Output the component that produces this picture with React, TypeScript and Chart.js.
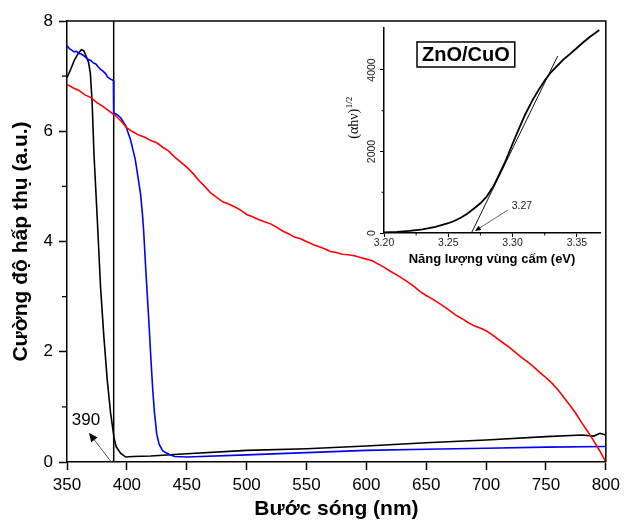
import React, { useEffect, useRef } from "react";
import { Chart, registerables } from "chart.js";

Chart.register(...registerables);

// ---------------- Main chart data ----------------
const X_TICKS = [350, 400, 450, 500, 550, 600, 650, 700, 750, 800];
const Y_TICKS = [0, 2, 4, 6, 8];
const Y_MINOR = [1, 3, 5, 7];

const RED_NM = [350, 355, 360, 365, 370, 375, 380, 385, 390, 395, 400, 405, 410, 415, 420, 425, 430, 435, 440, 445, 450, 455, 460, 465, 470, 475, 480, 485, 490, 495, 500, 505, 510, 515, 520, 525, 530, 535, 540, 545, 550, 555, 560, 565, 570, 575, 580, 585, 590, 595, 600, 605, 610, 615, 620, 625, 630, 635, 640, 645, 650, 655, 660, 665, 670, 675, 680, 685, 690, 695, 700, 705, 710, 715, 720, 725, 730, 735, 740, 745, 750, 755, 760, 765, 770, 775, 780, 785, 790, 795, 800];
const RED_VAL = [6.85, 6.79, 6.74, 6.66, 6.61, 6.52, 6.45, 6.37, 6.29, 6.19, 6.06, 5.99, 5.93, 5.89, 5.83, 5.79, 5.71, 5.64, 5.53, 5.44, 5.35, 5.24, 5.11, 5.0, 4.88, 4.8, 4.72, 4.68, 4.63, 4.57, 4.49, 4.45, 4.4, 4.36, 4.32, 4.26, 4.19, 4.14, 4.08, 4.05, 4.0, 3.95, 3.91, 3.87, 3.82, 3.8, 3.77, 3.76, 3.74, 3.71, 3.68, 3.65, 3.59, 3.53, 3.46, 3.4, 3.33, 3.26, 3.18, 3.09, 3.02, 2.96, 2.89, 2.82, 2.74, 2.66, 2.6, 2.53, 2.47, 2.43, 2.38, 2.31, 2.23, 2.15, 2.07, 1.98, 1.89, 1.81, 1.72, 1.62, 1.53, 1.43, 1.31, 1.17, 1.03, 0.88, 0.71, 0.55, 0.38, 0.2, 0.0];

const BLUE_NM = [350, 352, 354, 356, 358, 360, 362, 364, 366, 368, 370, 372, 374, 376, 378, 380, 382, 384, 386, 388.8, 389, 392, 395, 399, 403, 407, 410, 411.5, 413, 414, 415.5, 417, 418.5, 420, 421.5, 423, 425, 427, 430, 435, 440, 450, 500, 550, 600, 650, 700, 750, 800];
const BLUE_VAL = [7.55, 7.5, 7.47, 7.44, 7.45, 7.41, 7.4, 7.37, 7.33, 7.3, 7.28, 7.24, 7.22, 7.17, 7.12, 7.09, 7.05, 6.98, 6.95, 6.92, 6.33, 6.3, 6.24, 6.1, 5.85, 5.49, 5.07, 4.85, 4.5, 4.2, 3.6, 3.05, 2.5, 1.9, 1.35, 0.9, 0.5, 0.32, 0.2, 0.14, 0.1, 0.09, 0.13, 0.17, 0.21, 0.23, 0.25, 0.27, 0.28];

const BLACK_NM = [350, 353, 356, 359, 362, 364, 366, 368, 369.5, 371, 372.5, 375.3, 378, 380.8, 383.6, 386.4, 389.2, 391, 394.7, 399, 405, 420, 450, 500, 550, 600, 650, 700, 750, 780, 790, 795, 800];
const BLACK_VAL = [6.97, 7.12, 7.28, 7.4, 7.48, 7.46, 7.36, 7.25, 7.05, 6.52, 5.6, 4.4, 3.18, 2.27, 1.49, 0.89, 0.45, 0.28, 0.16, 0.09, 0.1, 0.11, 0.15, 0.21, 0.24, 0.29, 0.35, 0.4, 0.46, 0.49, 0.47, 0.52, 0.49];

const EDGE_NM = 389; // vertical marker line
const EDGE_LINE_NM = [EDGE_NM, EDGE_NM];
const EDGE_LINE_VAL = [0, 8];

const EDGE_LABEL = "390";
const EDGE_LABEL_POS = [365.8, 0.76];
const EDGE_ARROW_TAIL = [387, 0.0];
const EDGE_ARROW_HEAD = [368.3, 0.53];

// ---------------- Inset data ----------------
const INSET_X_TICKS = [3.2, 3.25, 3.3, 3.35];
const INSET_X_MINOR = [3.225, 3.275, 3.325];
const INSET_Y_TICKS = [0, 2000, 4000];
const INSET_Y_MINOR = [1000, 3000];

const INSET_EV = [3.2, 3.21, 3.22, 3.23, 3.24, 3.25, 3.255, 3.26, 3.265, 3.27, 3.275, 3.28, 3.285, 3.29, 3.295, 3.3, 3.305, 3.31, 3.315, 3.32, 3.325, 3.33, 3.335, 3.34, 3.345, 3.35, 3.355, 3.36, 3.3675];
const INSET_VAL = [15, 30, 52, 88, 150, 240, 300, 380, 480, 600, 730, 900, 1140, 1460, 1800, 2190, 2560, 2920, 3230, 3500, 3740, 3950, 4110, 4270, 4400, 4540, 4680, 4810, 4980];

const TANGENT_EV = [3.268, 3.3351];
const TANGENT_VAL = [0, 4343];

const INSET_LABEL = "ZnO/CuO";
const INSET_LABEL_POS = [3.2637, 4380];
const GAP_LABEL = "3.27";
const GAP_LABEL_POS = [3.3073, 663];
const GAP_ARROW_TAIL = [3.2964, 564];
const GAP_ARROW_HEAD = [3.2707, 49];

const SANS = "'Liberation Sans', Arial, Helvetica, sans-serif";
const SERIF = "'Liberation Serif', 'Times New Roman', serif";

const pts = (xs: number[], ys: number[]) => xs.map((x, i) => ({ x, y: ys[i] }));

function drawArrow(ctx: CanvasRenderingContext2D, x1: number, y1: number, x2: number, y2: number, lineColor: string, headLen: number, headW: number) {
  const ang = Math.atan2(y2 - y1, x2 - x1);
  const bx = x2 - Math.cos(ang) * headLen;
  const by = y2 - Math.sin(ang) * headLen;
  ctx.strokeStyle = lineColor;
  ctx.lineWidth = 1;
  ctx.beginPath();
  ctx.moveTo(x1, y1);
  ctx.lineTo(bx, by);
  ctx.stroke();
  ctx.fillStyle = "#000";
  ctx.beginPath();
  ctx.moveTo(x2, y2);
  ctx.lineTo(bx + Math.sin(ang) * headW, by - Math.cos(ang) * headW);
  ctx.lineTo(bx - Math.sin(ang) * headW, by + Math.cos(ang) * headW);
  ctx.closePath();
  ctx.fill();
}

const mainDecor = {
  id: "mainDecor",
  afterDraw(chart: any) {
    const { ctx, chartArea, scales } = chart;
    const { left, right, top, bottom } = chartArea;
    const x = scales.x, y = scales.y;
    ctx.save();
    ctx.strokeStyle = "#000";
    ctx.lineWidth = 1.5;
    ctx.beginPath();
    ctx.moveTo(left, top);
    ctx.lineTo(right, top);
    ctx.lineTo(right, bottom);
    ctx.stroke();
    ctx.lineWidth = 1.2;
    ctx.beginPath();
    for (const v of Y_MINOR) {
      const py = y.getPixelForValue(v);
      ctx.moveTo(left, py);
      ctx.lineTo(left - 5, py);
    }
    ctx.stroke();
    drawArrow(
      ctx,
      x.getPixelForValue(EDGE_ARROW_TAIL[0]), y.getPixelForValue(EDGE_ARROW_TAIL[1]),
      x.getPixelForValue(EDGE_ARROW_HEAD[0]), y.getPixelForValue(EDGE_ARROW_HEAD[1]),
      "#555", 9, 4
    );
    ctx.fillStyle = "#000";
    ctx.font = `17px ${SANS}`;
    ctx.textAlign = "center";
    ctx.textBaseline = "middle";
    ctx.fillText(EDGE_LABEL, x.getPixelForValue(EDGE_LABEL_POS[0]), y.getPixelForValue(EDGE_LABEL_POS[1]));
    ctx.restore();
  },
};

const insetDecor = {
  id: "insetDecor",
  afterDraw(chart: any) {
    const { ctx, chartArea, scales } = chart;
    const { left, bottom, top } = chartArea;
    const x = scales.x, y = scales.y;
    ctx.save();
    ctx.strokeStyle = "#000";
    ctx.lineWidth = 1;
    ctx.beginPath();
    for (const v of INSET_X_MINOR) {
      const px = x.getPixelForValue(v);
      ctx.moveTo(px, bottom);
      ctx.lineTo(px, bottom + 2.5);
    }
    for (const v of INSET_Y_MINOR) {
      const py = y.getPixelForValue(v);
      ctx.moveTo(left, py);
      ctx.lineTo(left - 2.5, py);
    }
    ctx.stroke();

    // rotated y tick labels
    ctx.fillStyle = "#222";
    ctx.font = `10.5px ${SANS}`;
    ctx.textAlign = "center";
    ctx.textBaseline = "middle";
    for (const v of INSET_Y_TICKS) {
      const py = y.getPixelForValue(v);
      ctx.save();
      ctx.translate(left - 12, py);
      ctx.rotate(-Math.PI / 2);
      ctx.fillText(String(v), 0, 0);
      ctx.restore();
    }

    // y title (αhν)^1/2
    ctx.save();
    ctx.translate(left - 31, top + 90);
    ctx.rotate(-Math.PI / 2);
    ctx.fillStyle = "#000";
    ctx.textBaseline = "alphabetic";
    ctx.textAlign = "left";
    const mainTxt = "(\u03b1h\u03bd)";
    const supTxt = "1/2";
    ctx.font = `14px ${SERIF}`;
    const w1 = ctx.measureText(mainTxt).width;
    ctx.font = `9px ${SERIF}`;
    const w2 = ctx.measureText(supTxt).width;
    const start = -(w1 + w2) / 2;
    ctx.font = `14px ${SERIF}`;
    ctx.fillText(mainTxt, start, 5);
    ctx.font = `9px ${SERIF}`;
    ctx.fillText(supTxt, start + w1 + 0.5, -1);
    ctx.restore();

    // ZnO/CuO boxed label
    const lx = x.getPixelForValue(INSET_LABEL_POS[0]);
    const ly = y.getPixelForValue(INSET_LABEL_POS[1]);
    ctx.font = `bold 20px ${SANS}`;
    const tw = ctx.measureText(INSET_LABEL).width;
    ctx.fillStyle = "#fff";
    ctx.fillRect(lx - tw / 2 - 5, ly - 12.5, tw + 10, 25);
    ctx.strokeStyle = "#000";
    ctx.lineWidth = 1.5;
    ctx.strokeRect(lx - tw / 2 - 5, ly - 12.5, tw + 10, 25);
    ctx.fillStyle = "#000";
    ctx.textAlign = "center";
    ctx.textBaseline = "middle";
    ctx.fillText(INSET_LABEL, lx, ly + 1);

    // 3.27 annotation
    drawArrow(
      ctx,
      x.getPixelForValue(GAP_ARROW_TAIL[0]), y.getPixelForValue(GAP_ARROW_TAIL[1]),
      x.getPixelForValue(GAP_ARROW_HEAD[0]), y.getPixelForValue(GAP_ARROW_HEAD[1]),
      "#666", 6, 2.5
    );
    ctx.fillStyle = "#222";
    ctx.font = `10.5px ${SANS}`;
    ctx.textAlign = "center";
    ctx.textBaseline = "middle";
    ctx.fillText(GAP_LABEL, x.getPixelForValue(GAP_LABEL_POS[0]), y.getPixelForValue(GAP_LABEL_POS[1]));
    ctx.restore();
  },
};

export default function App() {
  const mainRef = useRef<HTMLCanvasElement>(null);
  const insetRef = useRef<HTMLCanvasElement>(null);

  useEffect(() => {
    const main = new Chart(mainRef.current!, {
      type: "line",
      data: {
        datasets: [
          { data: pts(RED_NM, RED_VAL), borderColor: "#ff0000", borderWidth: 1.6 },
          { data: pts(BLUE_NM, BLUE_VAL), borderColor: "#0000ff", borderWidth: 1.6 },
          { data: pts(BLACK_NM, BLACK_VAL), borderColor: "#000000", borderWidth: 1.6 },
          { data: pts(EDGE_LINE_NM, EDGE_LINE_VAL), borderColor: "#000000", borderWidth: 1.5 },
        ],
      },
      options: {
        animation: false,
        responsive: false,
        maintainAspectRatio: false,
        layout: { padding: { left: 0, right: 17, top: 21, bottom: 0 } },
        plugins: { legend: { display: false }, tooltip: { enabled: false } },
        elements: { point: { radius: 0 }, line: { tension: 0 } },
        scales: {
          x: {
            type: "linear",
            min: 350,
            max: 800,
            afterBuildTicks: (s: any) => { s.ticks = X_TICKS.map((v) => ({ value: v })); },
            ticks: { font: { family: SANS, size: 17 }, color: "#000", padding: 5, maxRotation: 0 },
            grid: { drawOnChartArea: false, drawTicks: true, tickLength: 8, tickColor: "#000", tickWidth: 1.5 },
            border: { color: "#000", width: 1.5 },
            title: { display: true, text: "Bước sóng (nm)", color: "#000", font: { family: SANS, size: 21, weight: "bold", lineHeight: 1 }, padding: { top: 0, bottom: 0 } },
            afterFit: (s: any) => { s.height = 58; },
          },
          y: {
            type: "linear",
            min: 0,
            max: 8,
            afterBuildTicks: (s: any) => { s.ticks = Y_TICKS.map((v) => ({ value: v })); },
            ticks: { font: { family: SANS, size: 17 }, color: "#000", padding: 6 },
            grid: { drawOnChartArea: false, drawTicks: true, tickLength: 8, tickColor: "#000", tickWidth: 1.5 },
            border: { color: "#000", width: 1.5 },
            title: { display: true, text: "Cường độ hấp thụ (a.u.)", color: "#000", font: { family: SANS, size: 21, weight: "bold", lineHeight: 1 }, padding: { top: 11, bottom: 0 } },
            afterFit: (s: any) => { s.width = 67; },
          },
        },
      } as any,
      plugins: [mainDecor],
    });

    const inset = new Chart(insetRef.current!, {
      type: "line",
      data: {
        datasets: [
          { data: pts(INSET_EV, INSET_VAL), borderColor: "#000", borderWidth: 1.8 },
          { data: pts(TANGENT_EV, TANGENT_VAL), borderColor: "#111", borderWidth: 1 },
        ],
      },
      options: {
        animation: false,
        responsive: false,
        maintainAspectRatio: false,
        layout: { padding: { left: 0, right: 10, top: 8, bottom: 0 } },
        plugins: { legend: { display: false }, tooltip: { enabled: false } },
        elements: { point: { radius: 0 }, line: { tension: 0 } },
        scales: {
          x: {
            type: "linear",
            min: 3.2,
            max: 3.368,
            afterBuildTicks: (s: any) => { s.ticks = INSET_X_TICKS.map((v) => ({ value: v })); },
            ticks: { font: { family: SANS, size: 10.5 }, color: "#222", padding: 0, maxRotation: 0, callback: (v: any) => Number(v).toFixed(2) },
            grid: { drawOnChartArea: false, drawTicks: true, tickLength: 4, tickColor: "#000", tickWidth: 1 },
            border: { color: "#000", width: 1.5 },
            title: { display: true, text: "Năng lượng vùng cấm (eV)", color: "#000", font: { family: SANS, size: 13, weight: "bold", lineHeight: 1 }, padding: { top: 0, bottom: 9 } },
            afterFit: (s: any) => { s.height = 42; },
          },
          y: {
            type: "linear",
            min: 0,
            max: 5030,
            afterBuildTicks: (s: any) => { s.ticks = INSET_Y_TICKS.map((v) => ({ value: v })); },
            ticks: { display: false },
            grid: { drawOnChartArea: false, drawTicks: true, tickLength: 4, tickColor: "#000", tickWidth: 1 },
            border: { color: "#000", width: 1.5 },
            afterFit: (s: any) => { s.width = 49; },
          },
        },
      } as any,
      plugins: [insetDecor],
    });

    return () => {
      main.destroy();
      inset.destroy();
    };
  }, []);

  return (
    <div style={{ position: "absolute", left: 0, top: 0, width: 625, height: 520, background: "#fff" }}>
      <canvas ref={mainRef} width={625} height={520} style={{ position: "absolute", left: 0, top: 0, width: 625, height: 520 }} />
      <canvas ref={insetRef} width={275} height={255} style={{ position: "absolute", left: 335, top: 20, width: 275, height: 255 }} />
    </div>
  );
}
